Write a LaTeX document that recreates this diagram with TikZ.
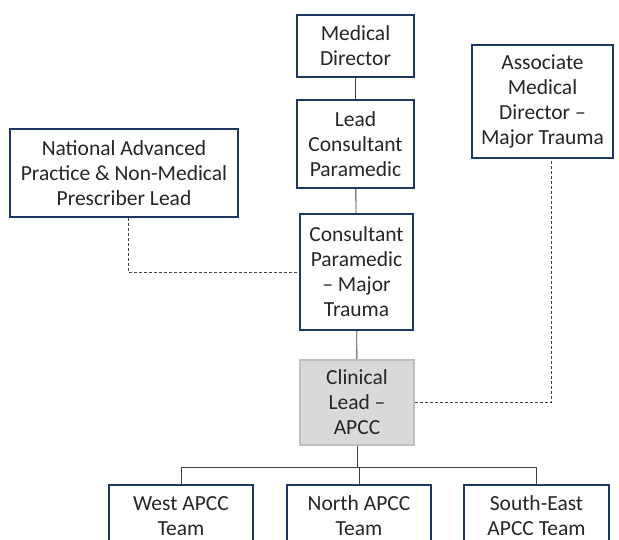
\documentclass[tikz,border=0pt]{standalone}
\usepackage{fontspec}
\setmainfont{Carlito}
\usetikzlibrary{positioning}
\definecolor{navy}{HTML}{1F3864}
\definecolor{linegray}{HTML}{404040}
\definecolor{leadfill}{HTML}{D9D9D9}
\definecolor{leadline}{HTML}{BFBFBF}
\tikzset{
  post/.style={draw=navy, line width=1.6pt, fill=white, align=center, inner sep=2pt,
    font=\fontsize{21.5}{25}\selectfont, text=black!85},
  lead/.style={post, draw=leadline, fill=leadfill},
  link/.style={draw=linegray, line width=0.9pt},
  dotlink/.style={link, dashed, dash pattern=on 3pt off 2pt}
}
\begin{document}
\begin{tikzpicture}[x=1pt,y=-1pt]
	\useasboundingbox (0,0) rectangle (619,540);
	\node[post, minimum width=117, minimum height=62] (md) at (355.5,46) {Medical\\Director};
	\node[post, minimum width=117, minimum height=88] (lcp) at (355.5,144) {Lead\\Consultant\\Paramedic};
	\node[post, minimum width=141, minimum height=113] (amd) at (542.5,101.5) {Associate\\Medical\\Director --\\Major Trauma};
	\node[post, minimum width=228, minimum height=88] (nap) at (124,173) {National Advanced\\Practice \& Non-Medical\\Prescriber Lead};
	\node[post, minimum width=113, minimum height=116] (cpm) at (356.5,272) {Consultant\\Paramedic\\-- Major\\Trauma};
	\node[lead, minimum width=114, minimum height=85] (cl) at (357,402.5) {Clinical\\Lead --\\APCC};
	\node[post, minimum width=144, minimum height=62, anchor=north] (west) at (181,484) {West APCC\\Team};
	\node[post, minimum width=144, minimum height=62, anchor=north] (north) at (359,484) {North APCC\\Team};
	\node[post, minimum width=145, minimum height=62, anchor=north] (se) at (536.5,484) {South-East\\APCC Team};
	\coordinate (split) at (357,467);
	% solid reporting lines
	\draw[link] (md) -- (lcp);
	\draw[link] (lcp) -- (cpm);
	\draw[link] (cpm) -- (cl);
	\draw[link] (cl) -- (split);
	\draw[link] (split) -| (west.north);
	\draw[link] (split) -| (se.north);
	\draw[link] (split) -| (north.north);
	% dotted lines
	\draw[dotlink] ([xshift=4pt]nap.south) |- (cpm.west);
	\draw[dotlink] (cl.east) -| ([xshift=8.5pt]amd.south);
\end{tikzpicture}
\end{document}
